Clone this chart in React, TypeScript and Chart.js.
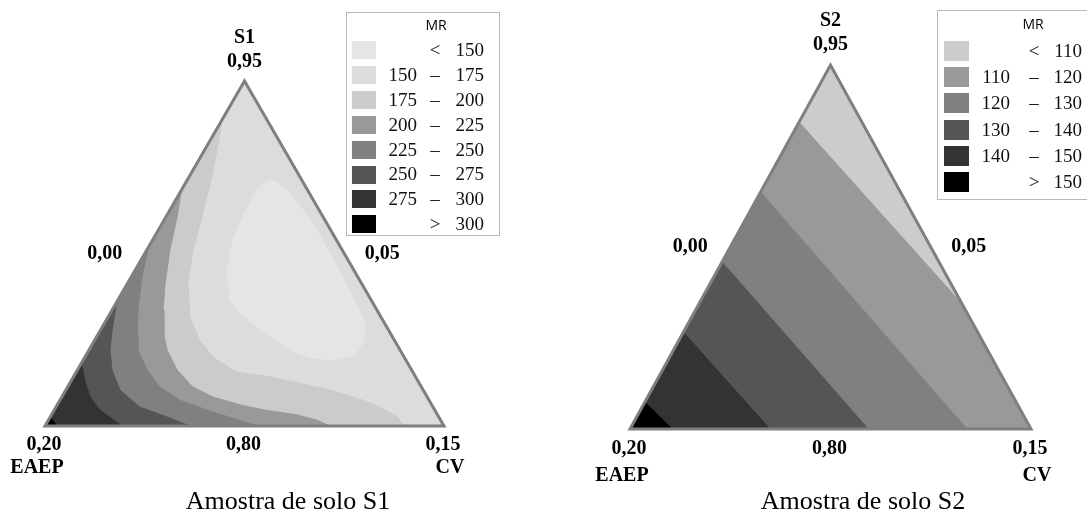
import React, { useEffect, useRef } from 'react';
import { Chart, registerables } from 'chart.js';

Chart.register(...registerables);

// Points are ternary compositions in pseudo-component fractions: [S (top vertex), CV (right vertex)]; EAEP = 1 - S - CV
type P = [number, number];

// ---------- Sample S1 ----------
const S1_VERTEX_NAMES = ['S1', 'EAEP', 'CV'];
const S1_TICKS = ['0,95', '0,20', '0,15', '0,00', '0,05', '0,80'];
const S1_LEGEND_LO = ['', '150', '175', '200', '225', '250', '275', ''];
const S1_LEGEND_SYM = ['<', '–', '–', '–', '–', '–', '–', '>'];
const S1_LEGEND_HI = ['150', '175', '200', '225', '250', '275', '300', '300'];
const S1_COLORS = ['#e5e5e5', '#dcdcdc', '#cbcbcb', '#999999', '#808080', '#555555', '#333333', '#000000'];

const S1_MR_150: P[] = [
  [0.713, 0.202], [0.707, 0.227], [0.684, 0.265], [0.588, 0.378], [0.461, 0.502], [0.345, 0.610],
  [0.299, 0.653], [0.249, 0.677], [0.206, 0.674], [0.191, 0.631], [0.197, 0.565], [0.220, 0.504],
  [0.287, 0.388], [0.328, 0.325], [0.365, 0.281], [0.443, 0.234], [0.539, 0.201], [0.635, 0.189],
  [0.690, 0.189],
];
const S1_MR_175: P[] = [
  [0.887, 0], [0.800, 0.031], [0.704, 0.062], [0.606, 0.090], [0.510, 0.116], [0.414, 0.151],
  [0.316, 0.205], [0.249, 0.263], [0.200, 0.321], [0.157, 0.398], [0.145, 0.479], [0.125, 0.570],
  [0.104, 0.662], [0.075, 0.759], [0.055, 0.812], [0.026, 0.869], [0, 0.902],
];
const S1_MR_200: P[] = [
  [0.684, 0], [0.606, 0.028], [0.510, 0.058], [0.414, 0.094], [0.336, 0.128], [0.264, 0.166],
  [0.220, 0.196], [0.162, 0.250], [0.113, 0.314], [0.084, 0.379], [0.061, 0.459], [0.046, 0.528],
  [0.032, 0.616], [0.017, 0.673], [0, 0.714],
];
const S1_MR_225: P[] = [
  [0.519, 0], [0.432, 0.027], [0.345, 0.061], [0.264, 0.099], [0.220, 0.123], [0.162, 0.175],
  [0.113, 0.231], [0.075, 0.300], [0.046, 0.383], [0.023, 0.457], [0, 0.531],
];
const S1_MR_250: P[] = [
  [0.359, 0], [0.278, 0.029], [0.220, 0.053], [0.162, 0.087], [0.104, 0.136], [0.055, 0.210],
  [0.026, 0.293], [0, 0.363],
];
const S1_MR_275: P[] = [[0.183, 0], [0.133, 0.033], [0.084, 0.071], [0.046, 0.115], [0, 0.193]];
const S1_MR_300: P[] = [[0.026, 0], [0, 0.030]];

// ---------- Sample S2 ----------
const S2_VERTEX_NAMES = ['S2', 'EAEP', 'CV'];
const S2_TICKS = ['0,95', '0,20', '0,15', '0,00', '0,05', '0,80'];
const S2_LEGEND_LO = ['', '110', '120', '130', '140', ''];
const S2_LEGEND_SYM = ['<', '–', '–', '–', '–', '>'];
const S2_LEGEND_HI = ['110', '120', '130', '140', '150', '150'];
const S2_COLORS = ['#cccccc', '#999999', '#808080', '#555555', '#333333', '#000000'];

const S2_MR_110: P[] = [[0.843, 0], [0.343, 0.657]];
const S2_MR_120: P[] = [[0.651, 0], [0, 0.840]];
const S2_MR_130: P[] = [[0.459, 0], [0, 0.594]];
const S2_MR_140: P[] = [[0.266, 0], [0, 0.349]];
const S2_MR_150: P[] = [[0.074, 0], [0, 0.105]];

// Triangle corners
const TOP: P = [1, 0];
const LEFT: P = [0, 0];
const RIGHT: P = [0, 1];

interface Region { pts: P[]; color: string }
interface Panel {
  left: number; cw: number; ch: number;
  Lx: number; Rx: number; Ty: number; By: number;
  regions: Region[];
  names: string[]; ticks: string[];
  topGap: [number, number]; botGap: [number, number];
  title: string; titleX: number;
  legend: {
    box: [number, number, number, number]; mr: [number, number];
    row0: number; step: number; swX: number; swW: number; swH: number;
    loR: number; symC: number; hiR: number;
    lo: string[]; sym: string[]; hi: string[]; colors: string[];
  };
}

const PANEL_S1: Panel = {
  left: 0, cw: 540, ch: 514,
  Lx: 45, Rx: 444, Ty: 81, By: 426,
  regions: [
    { pts: [TOP, LEFT, RIGHT], color: S1_COLORS[1] },
    { pts: [...S1_MR_175, LEFT], color: S1_COLORS[2] },
    { pts: [...S1_MR_200, LEFT], color: S1_COLORS[3] },
    { pts: [...S1_MR_225, LEFT], color: S1_COLORS[4] },
    { pts: [...S1_MR_250, LEFT], color: S1_COLORS[5] },
    { pts: [...S1_MR_275, LEFT], color: S1_COLORS[6] },
    { pts: [...S1_MR_300, LEFT], color: S1_COLORS[7] },
    { pts: S1_MR_150, color: S1_COLORS[0] },
  ],
  names: S1_VERTEX_NAMES, ticks: S1_TICKS,
  topGap: [43, 19], botGap: [19, 42],
  title: 'Amostra de solo S1', titleX: 288,
  legend: {
    box: [346, 12, 153, 223], mr: [436, 26],
    row0: 50, step: 24.9, swX: 352, swW: 24, swH: 18,
    loR: 417, symC: 435, hiR: 484,
    lo: S1_LEGEND_LO, sym: S1_LEGEND_SYM, hi: S1_LEGEND_HI, colors: S1_COLORS,
  },
};

const PANEL_S2: Panel = {
  left: 540, cw: 547, ch: 514,
  Lx: 90, Rx: 491, Ty: 65, By: 429,
  regions: [
    { pts: [TOP, LEFT, RIGHT], color: S2_COLORS[0] },
    { pts: [...S2_MR_110, RIGHT, LEFT], color: S2_COLORS[1] },
    { pts: [...S2_MR_120, LEFT], color: S2_COLORS[2] },
    { pts: [...S2_MR_130, LEFT], color: S2_COLORS[3] },
    { pts: [...S2_MR_140, LEFT], color: S2_COLORS[4] },
    { pts: [...S2_MR_150, LEFT], color: S2_COLORS[5] },
  ],
  names: S2_VERTEX_NAMES, ticks: S2_TICKS,
  topGap: [44, 20], botGap: [20, 47],
  title: 'Amostra de solo S2', titleX: 323,
  legend: {
    box: [397, 10, 170, 189], mr: [493, 25],
    row0: 51, step: 26.2, swX: 404, swW: 25, swH: 20,
    loR: 470, symC: 494, hiR: 542,
    lo: S2_LEGEND_LO, sym: S2_LEGEND_SYM, hi: S2_LEGEND_HI, colors: S2_COLORS,
  },
};

const toXY = (p: P) => ({ x: p[1] + p[0] / 2, y: p[0] });

function buildChart(canvas: HTMLCanvasElement, pn: Panel) {
  const W = pn.Rx - pn.Lx;
  const H = pn.By - pn.Ty;
  const n = pn.regions.length;
  const datasets: any[] = pn.regions.map((r, i) => ({
    data: r.pts.map(toXY),
    showLine: true,
    fill: 'shape',
    backgroundColor: r.color,
    borderColor: r.color,
    borderWidth: 1,
    pointRadius: 0,
    tension: 0,
    order: n + 1 - i,
  }));
  // outline (starting at bottom mid so all corners are joins)
  datasets.push({
    data: [[0, 0.5] as P, RIGHT, TOP, LEFT, [0, 0.5] as P].map(toXY),
    showLine: true,
    fill: false,
    borderColor: '#7f7f7f',
    borderWidth: 3,
    borderJoinStyle: 'miter',
    pointRadius: 0,
    order: 0,
  });

  const decor = {
    id: 'ternaryDecor',
    afterDraw(chart: any) {
      const ctx = chart.ctx as CanvasRenderingContext2D;
      const xs = chart.scales.x, ys = chart.scales.y;
      const px = (p: P) => {
        const d = toXY(p);
        return [xs.getPixelForValue(d.x), ys.getPixelForValue(d.y)];
      };
      const [tx, ty] = px(TOP);
      const [lx, ly] = px(LEFT);
      const [rx, ry] = px(RIGHT);
      ctx.save();
      ctx.fillStyle = '#000';
      ctx.textAlign = 'center';
      ctx.textBaseline = 'middle';
      ctx.font = 'bold 20px "Liberation Serif", "Times New Roman", serif';
      const [nTop, nLeft, nRight] = pn.names;
      const [tTop, tLeft, tRight, tLE, tRE, tB] = pn.ticks;
      ctx.fillText(nTop, tx, ty - pn.topGap[0]);
      ctx.fillText(tTop, tx, ty - pn.topGap[1]);
      ctx.fillText(tLE, (tx + lx) / 2 - 40, (ty + ly) / 2);
      ctx.fillText(tRE, (tx + rx) / 2 + 38, (ty + ry) / 2);
      ctx.fillText(tLeft, lx - 1, ly + pn.botGap[0]);
      ctx.fillText(nLeft, lx - 8, ly + pn.botGap[1]);
      ctx.fillText(tB, (lx + rx) / 2 - 1, ly + pn.botGap[0]);
      ctx.fillText(tRight, rx - 1, ry + pn.botGap[0]);
      ctx.fillText(nRight, rx + 6, ry + pn.botGap[1]);
      // title
      ctx.font = '26px "Liberation Serif", "Times New Roman", serif';
      ctx.fillText(pn.title, pn.titleX, 502);
      // legend
      const lg = pn.legend;
      ctx.fillStyle = '#fff';
      ctx.fillRect(lg.box[0], lg.box[1], lg.box[2], lg.box[3]);
      ctx.strokeStyle = '#b9b9b9';
      ctx.lineWidth = 1;
      ctx.strokeRect(lg.box[0] + 0.5, lg.box[1] + 0.5, lg.box[2], lg.box[3]);
      ctx.fillStyle = '#000';
      ctx.font = '14px "Open Sans", "Noto Sans", sans-serif';
      ctx.fillText('MR', lg.mr[0], lg.mr[1]);
      ctx.font = '19px "Liberation Serif", "Times New Roman", serif';
      lg.colors.forEach((c, i) => {
        const cy = lg.row0 + i * lg.step;
        ctx.fillStyle = c;
        ctx.fillRect(lg.swX, Math.round(cy - lg.swH / 2), lg.swW, lg.swH);
        ctx.fillStyle = '#111';
        ctx.textAlign = 'right';
        if (lg.lo[i]) ctx.fillText(lg.lo[i], lg.loR, cy + 1);
        ctx.fillText(lg.hi[i], lg.hiR, cy + 1);
        ctx.textAlign = 'center';
        ctx.fillText(lg.sym[i], lg.symC, cy + 1);
      });
      ctx.restore();
    },
  };

  return new Chart(canvas, {
    type: 'scatter',
    data: { datasets },
    options: {
      animation: false,
      responsive: false,
      maintainAspectRatio: false,
      events: [],
      layout: { padding: 0 },
      scales: {
        x: { type: 'linear', display: false, min: -pn.Lx / W, max: (pn.cw - pn.Lx) / W },
        y: { type: 'linear', display: false, min: (pn.By - pn.ch) / H, max: pn.By / H },
      },
      plugins: { legend: { display: false }, tooltip: { enabled: false } },
    },
    plugins: [decor],
  } as any);
}

function TernaryPanel({ panel }: { panel: Panel }) {
  const ref = useRef<HTMLCanvasElement>(null);
  useEffect(() => {
    const chart = buildChart(ref.current as HTMLCanvasElement, panel);
    return () => chart.destroy();
  }, [panel]);
  return (
    <canvas
      ref={ref}
      width={panel.cw}
      height={panel.ch}
      style={{ position: 'absolute', left: panel.left, top: 0, width: panel.cw, height: panel.ch, display: 'block' }}
    />
  );
}

export default function App() {
  return (
    <div style={{ position: 'fixed', left: 0, top: 0, width: 1087, height: 514, background: '#fff', overflow: 'hidden' }}>
      <TernaryPanel panel={PANEL_S1} />
      <TernaryPanel panel={PANEL_S2} />
    </div>
  );
}
